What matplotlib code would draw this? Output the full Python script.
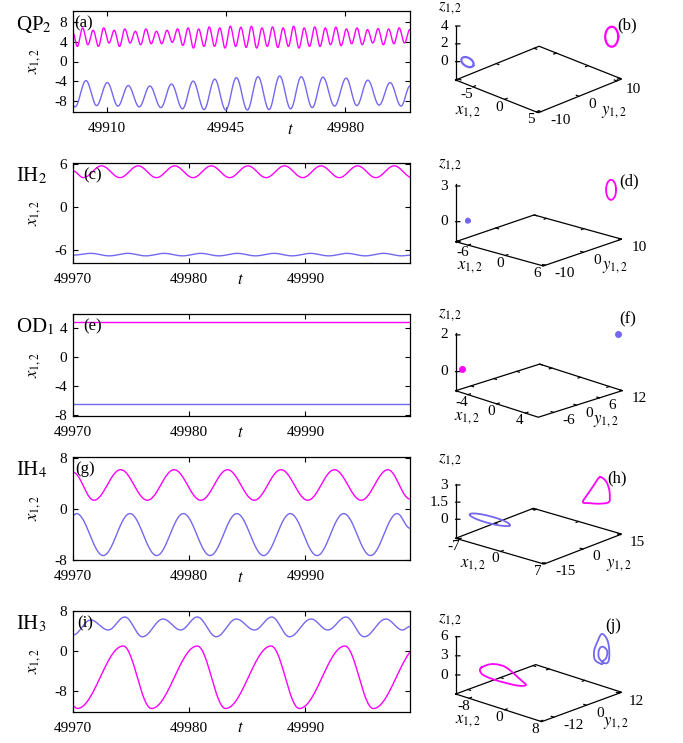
import numpy as np
import matplotlib
matplotlib.use('Agg')
import matplotlib.pyplot as plt

plt.rcParams['font.family'] = ['Liberation Serif', 'DejaVu Serif']
plt.rcParams['mathtext.fontset'] = 'stix'
plt.rcParams['axes.unicode_minus'] = False
plt.rcParams['font.size'] = 10.5

MAG = '#ff00ff'
BLUE = '#7468f0'
W, H = 683, 743

# ---------------- time series: turning points (t offset, x) ----------------
a_t0 = 49900
a_mag_t = [0, 1.27, 2.82, 4.37, 5.92, 7.47, 9.02, 10.57, 12.12, 13.67, 15.22, 16.77, 18.32, 19.87,
           21.42, 22.97, 24.52, 26.07, 27.62, 29.17, 30.72, 32.27, 33.82, 35.37, 36.92, 38.47,
           40.02, 41.57, 43.12, 44.67, 46.22, 47.77, 49.32, 50.87, 52.42, 53.97, 55.52, 57.07,
           58.62, 60.17, 61.72, 63.27, 64.82, 66.37, 67.92, 69.47, 71.02, 72.57, 74.12, 75.67,
           77.22, 78.77, 80.32, 81.87, 83.42, 84.97, 86.52, 88.07, 89.62, 91.17, 92.72, 94.27,
           95.82, 97.37, 98.92]
a_mag_x = [5.8, 3.08, 6.85, 3.42, 6.37, 3.08, 6.85, 3.77, 6.37, 3.08, 6.64, 3.77, 6.16, 3.42,
           6.64, 3.63, 6.16, 3.63, 6.37, 3.9, 6.64, 3.29, 6.85, 2.74, 6.64, 3.08, 7.05, 3.08,
           6.85, 2.74, 7.19, 3.08, 6.99, 2.88, 7.19, 2.74, 6.85, 3.08, 7.05, 2.88, 6.85, 3.08,
           7.19, 2.74, 6.85, 3.08, 7.05, 3.08, 6.85, 3.42, 6.99, 3.22, 6.64, 3.63, 6.85, 3.42,
           6.5, 3.77, 6.71, 3.42, 6.64, 3.63, 6.85, 3.77, 6.5]
a_blue_t = [0, 0.59, 3.81, 6.94, 10.07, 13.2, 16.23, 19.45, 22.58, 25.81, 28.93, 32.16, 35.29,
            38.51, 41.64, 44.87, 48.0, 51.22, 54.35, 57.58, 60.7, 63.93, 67.06, 70.28, 73.41,
            76.83, 80.25, 83.38, 86.61, 89.93, 93.16, 96.38, 99]
a_blue_x = [-9.0, -9.25, -3.9, -9.0, -4.3, -9.1, -4.9, -9.25, -5.0, -9.4, -4.6, -9.65, -4.0,
            -9.8, -3.6, -9.9, -3.3, -9.9, -3.1, -9.8, -2.95, -9.65, -3.1, -9.4, -3.2, -9.1,
            -3.4, -9.0, -3.8, -8.9, -4.3, -9.1, -5.0]

t0 = 49970
c_mag_t = [0, 0.89, 2.46, 4.04, 5.61, 7.18, 8.76, 10.33, 11.90, 13.48, 15.05, 16.62, 18.20,
           19.77, 21.34, 22.92, 24.49, 26.06, 27.64, 29.2]
c_mag_x = [5.1, 4.15, 5.8, 4.15, 5.8, 4.15, 5.8, 4.15, 5.8, 4.15, 5.8, 4.15, 5.8, 4.15, 5.8,
           4.15, 5.8, 4.15, 5.8, 4.15]
c_blue_t = [0, 1.55, 3.12, 4.70, 6.27, 7.84, 9.42, 10.99, 12.56, 14.14, 15.71, 17.28, 18.86,
            20.43, 22.0, 23.58, 25.15, 26.72, 28.3, 29.0]
c_blue_x = [-6.7, -6.45, -6.8, -6.45, -6.8, -6.45, -6.8, -6.45, -6.8, -6.45, -6.8, -6.45, -6.8,
            -6.45, -6.8, -6.45, -6.8, -6.45, -6.8, -6.7]

e_mag_t = [0, 29]
e_mag_x = [4.88, 4.88]
e_blue_t = [0, 29]
e_blue_x = [-6.5, -6.5]

g_mag_t = [0, 1.8, 4.1, 6.4, 8.7, 11.0, 13.3, 15.6, 17.9, 20.2, 22.5, 24.8, 27.1, 29.0]
g_mag_x = [5.8, 1.4, 6.2, 1.4, 6.2, 1.4, 6.2, 1.4, 6.2, 1.4, 6.2, 1.4, 6.2, 1.6]
g_blue_t = [0, 0.3, 2.6, 4.9, 7.2, 9.5, 11.8, 14.1, 16.4, 18.7, 21.0, 23.3, 25.6, 27.9, 29.0]
g_blue_x = [-1.0, -0.7, -7.3, -0.7, -7.3, -0.7, -7.3, -0.7, -7.3, -0.7, -7.3, -0.7, -7.3, -0.7, -3.0]

i_blue_t = [0, 1.52, 3.03, 4.46, 5.98, 7.75, 9.27, 10.7, 12.33, 14.05, 15.62, 17.11, 18.63,
            20.49, 21.92, 23.49, 25.06, 26.92, 28.35, 29.0]
i_blue_x = [3.2, 6.2, 4.2, 6.8, 2.85, 6.4, 4.2, 6.8, 2.85, 6.4, 4.2, 6.8, 2.85, 6.4, 4.2, 6.8,
            2.85, 6.4, 4.2, 4.9]
i_mag_t = [0, 0.37, 4.32, 6.75, 10.7, 13.13, 17.05, 19.48, 23.4, 25.84, 29.8]
i_mag_x = [-11.0, -11.5, 1.0, -11.5, 1.0, -11.5, 1.0, -11.5, 1.0, -11.5, 1.0]

# ---------------- phase portraits: loop points (x, y, z) ----------------
b_mag = ([4.8, 5.3, 5.67, 5.8, 5.67, 5.3, 4.8, 4.3, 3.93, 3.8, 3.93, 4.3],
         [11.22, 10.15, 8.91, 7.83, 7.19, 7.18, 7.79, 8.85, 10.09, 11.18, 11.81, 11.82],
         [2.56, 3.44, 4.17, 4.55, 4.47, 3.95, 3.15, 2.26, 1.53, 1.16, 1.23, 1.75])
b_blue = ([-5.6, -5.72, -6.05, -6.5, -6.95, -7.28, -7.4, -7.28, -6.95, -6.5, -6.05, -5.72],
          [-9.6, -9.3, -9.08, -9.0, -9.08, -9.3, -9.6, -9.9, -10.12, -10.2, -10.12, -9.9],
          [-0.05, 0.12, 0.285, 0.4, 0.435, 0.38, 0.25, 0.08, -0.085, -0.2, -0.235, -0.18])
d_mag = ([4.97, 5.39, 5.69, 5.8, 5.69, 5.39, 4.97, 4.56, 4.25, 4.14, 4.25, 4.56],
         [10.36, 9.51, 8.54, 7.70, 7.23, 7.24, 7.74, 8.59, 9.56, 10.40, 10.87, 10.86],
         [2.27, 2.84, 3.30, 3.52, 3.44, 3.09, 2.55, 1.98, 1.52, 1.30, 1.38, 1.73])
d_blue = ([-6.38, -6.43, -6.55, -6.67, -6.72, -6.67, -6.55, -6.43],
          [-9.7, -9.63, -9.6, -9.63, -9.7, -9.77, -9.8, -9.77],
          [0.21, 0.28, 0.31, 0.28, 0.21, 0.14, 0.11, 0.14])
f_mag_pt = (-5.0, -9.6, 0.2)
f_blue_pt = (5.8, 10.9, 2.1)
h_mag = ([4.23, 5.23, 5.73, 5.89, 5.73, 4.23, 2.57, 1.40, 2.23, 3.23],
         [13.9] * 10,
         [3.0, 2.81, 2.27, 1.68, 1.05, 0.68, 0.47, 0.39, 1.21, 2.15])
h_blue = ([-0.7, -1.14, -2.35, -4.0, -5.65, -6.86, -7.3, -6.86, -5.65, -4.0, -2.35, -1.14],
          [-10.3, -9.55, -9.0, -8.8, -9.0, -9.55, -10.3, -11.05, -11.6, -11.8, -11.6, -11.05],
          [0.06, 0.11, 0.15, 0.16, 0.15, 0.11, 0.06, 0.01, -0.03, -0.04, -0.03, 0.01])
j_mag = ([-11.11, -8.87, -6.26, -4.38, -2.52, -1.17, -2.9, -5.88, -8.51, -10.75, -11.49],
         [-6.73] * 11,
         [-0.35, 0.67, 0.95, 0.48, -0.30, -0.88, -1.38, -1.59, -1.65, -1.48, -0.96])
j_blue = ([4.73, 3.23, 3.0, 3.61, 4.73, 5.99, 6.44, 6.21, 5.25, 4.13, 4.01, 4.35, 4.96, 5.70,
           5.99, 5.70, 5.02],
          [11.5] * 17,
          [0.89, 1.17, 2.43, 3.88, 5.59, 4.93, 3.2, 1.58, 1.16, 1.69, 2.6, 3.31, 3.65, 3.46,
           2.97, 2.0, 1.42])


def turn_curve(tk, vk, n=30):
    # half-cosine strokes between successive turning points
    ts, vs = [], []
    for i in range(len(tk) - 1):
        s = np.linspace(0, 1, n, endpoint=False)
        ts.append(tk[i] + (tk[i + 1] - tk[i]) * s)
        vs.append(vk[i] + (vk[i + 1] - vk[i]) * (1 - np.cos(np.pi * s)) / 2)
    ts.append([tk[-1]])
    vs.append([vk[-1]])
    return np.concatenate(ts), np.concatenate(vs)


def closed_curve(xs, ys, zs, n=16):
    # closed Catmull-Rom curve through the loop points
    P = np.array([xs, ys, zs], dtype=float).T
    m = len(P)
    s = np.linspace(0, 1, n, endpoint=False)[:, None]
    out = []
    for i in range(m):
        p0, p1, p2, p3 = P[i - 1], P[i], P[(i + 1) % m], P[(i + 2) % m]
        out.append(0.5 * (2 * p1 + (p2 - p0) * s + (2 * p0 - 5 * p1 + 4 * p2 - p3) * s ** 2
                          + (3 * p1 - p0 - 3 * p2 + p3) * s ** 3))
    out.append(P[:1])
    return np.vstack(out).T


def lab(v):
    return '{:g}'.format(v)


def ftext(px, py, s, **kw):
    fig.text(px / W, 1 - py / H, s, **kw)


fig = plt.figure(figsize=(W / 100, H / 100), dpi=100)


def ts_panel(top, bot, base, curves, xlim, xticks, ylim, yticks, letter, letter_px, state, t_px):
    ax = fig.add_axes([73 / W, 1 - bot / H, 337 / W, (bot - top) / H])
    for tk, vk, col in curves:
        tt, vv = turn_curve(tk, vk)
        ax.plot(tt + base, vv, color=col, lw=1.0)
    ax.set_xlim(*xlim)
    ax.set_ylim(*ylim)
    ax.set_xticks(xticks)
    ax.set_xticklabels([str(v) for v in xticks])
    ax.set_yticks(yticks)
    ax.set_yticklabels([lab(v) for v in yticks])
    ax.tick_params(direction='in', top=True, right=True, length=3.5, width=0.8,
                   labelsize=11)
    ax.tick_params(axis='x', pad=7)
    ax.tick_params(axis='y', pad=4)
    for sp in ax.spines.values():
        sp.set_linewidth(0.9)
    ax.set_ylabel(r'$x_{1,2}$', fontsize=12)
    ax.yaxis.set_label_coords(-0.088, 0.5)
    ax.text((letter_px - 73) / 337, 0.96, letter, transform=ax.transAxes, fontsize=12,
            va='top', ha='left')
    h = bot - top
    ax.text((t_px[0] - 73) / 337, -(t_px[1] - bot) / h, r'$t$', transform=ax.transAxes,
            fontsize=12, ha='center', va='center')
    ftext(16, top + 3, state, fontsize=15, va='top', ha='left')
    return ax


ts_panel(11, 112, a_t0, [(a_mag_t, a_mag_x, MAG), (a_blue_t, a_blue_x, BLUE)],
         (49900, 49999), [49910, 49945, 49980], (-10.3, 10.3), [8, 4, 0, -4, -8],
         '(a)', 74, r'QP$_2$', (290, 130))
ts_panel(163, 263, t0, [(c_mag_t, c_mag_x, MAG), (c_blue_t, c_blue_x, BLUE)],
         (49970, 49999), [49970, 49980, 49990], (-7.8, 6.2), [6, 0, -6],
         '(c)', 83, r'IH$_2$', (240.7, 280))
ts_panel(314, 416, t0, [(e_mag_t, e_mag_x, MAG), (e_blue_t, e_blue_x, BLUE)],
         (49970, 49999), [49970, 49980, 49990], (-8.15, 6.0), [4, 0, -4, -8],
         '(e)', 83, r'OD$_1$', (240.7, 433))
ts_panel(457, 560, t0, [(g_mag_t, g_mag_x, MAG), (g_blue_t, g_blue_x, BLUE)],
         (49970, 49999), [49970, 49980, 49990], (-8.0, 8.2), [8, 0, -8],
         '(g)', 75, r'IH$_4$', (240.7, 578))
ts_panel(611, 712, t0, [(i_mag_t, i_mag_x, MAG), (i_blue_t, i_blue_x, BLUE)],
         (49970, 49999), [49970, 49980, 49990], (-12.2, 8.0), [8, 0, -8],
         '(i)', 77, r'IH$_3$', (240.7, 728))


def phase_panel(xl, yl, zl, xt, yt, zt, elev, azim, aspect, loops, dots):
    ax = fig.add_axes([0.65, 0.4, 0.3, 0.3], projection='3d', proj_type='ortho',
                      computed_zorder=False)
    ax.set_axis_off()
    ax.patch.set_alpha(0)
    ax.view_init(elev=elev, azim=azim)
    ax.set_box_aspect(aspect)
    ax.set_xlim(*xl)
    ax.set_ylim(*yl)
    ax.set_zlim(*zl)
    M = ax.get_proj()

    def label(x, y, z, s, **kw):
        # tick label placed at the projection of a 3-D anchor point
        v = M @ np.array([x, y, z, 1.0])
        ax.text2D(v[0] / v[3], v[1] / v[3], s, transform=ax.transData, fontsize=11, **kw)

    x0, x1 = xl
    y0, y1 = yl
    zb, ztop = zl
    xr, yr, zr = x1 - x0, y1 - y0, ztop - zb
    k = dict(color='black', lw=0.9)
    ax.plot([x0, x1, x1, x0, x0], [y0, y0, y1, y1, y0], [zb] * 5, **k)
    ax.plot([x0, x0], [y0, y0], [zb, ztop], **k)
    for v in xt:
        ax.plot([v, v], [y0, y0 + 0.03 * yr], [zb, zb], **k)
        ax.plot([v, v], [y1, y1 - 0.03 * yr], [zb, zb], **k)
        label(v, y0 - 0.07 * yr, zb - 0.1 * zr, lab(v), ha='center', va='center')
    for v in yt:
        ax.plot([x1, x1 - 0.03 * xr], [v, v], [zb, zb], **k)
        ax.plot([x0, x0 + 0.03 * xr], [v, v], [zb, zb], **k)
        label(x1 + 0.11 * xr, v, zb - 0.09 * zr, lab(v), ha='left', va='center')
    for v in zt:
        ax.plot([x0, x0 + 0.025 * xr], [y0, y0 + 0.025 * yr], [v, v], **k)
        label(x0 - 0.045 * xr, y0 - 0.045 * yr, v, lab(v), ha='right', va='center')
    for (xs, ys, zs), col, lw in loops:
        cx, cy, cz = closed_curve(xs, ys, zs)
        ax.plot(cx, cy, cz, color=col, lw=lw, zorder=3)
    for (px, py, pz), col in dots:
        ax.plot([px], [py], [pz], 'o', color=col, ms=4, zorder=3)
    return ax


phase_specs = [
    dict(xl=(-7.7, 5.3), yl=(-10.7, 11.3), zl=(-2.06, 4.0), xt=[-5, 0, 5], yt=[-10, 0, 10],
         zt=[0, 2, 4], elev=23.6, azim=-45.3, aspect=(116.2, 118.6, 58.9),
         loops=[(b_mag, MAG, 1.6), (b_blue, BLUE, 1.6)], dots=[],
         L=(455.7, 80), R=(621.7, 79), letter='(b)', lp=(626.7, 25),
         zlab=(450, 8), xlab=(468, 112), ylab=(614, 112)),
    dict(xl=(-8, 6.1), yl=(-10.5, 10), zl=(-1.68, 3.2), xt=[-6, 0, 6], yt=[-10, 0, 10],
         zt=[0, 3], elev=17.9, azim=-48.0, aspect=(117.9, 117.2, 61.0),
         loops=[(d_mag, MAG, 1.3), (d_blue, BLUE, 2.5)], dots=[],
         L=(455.7, 241.7), R=(621.7, 239.3), letter='(d)', lp=(629.3, 181.7),
         zlab=(450, 165), xlab=(470, 267), ylab=(615, 267)),
    dict(xl=(-5.7, 5.8), yl=(-10, 12), zl=(-1.04, 2.1), xt=[-4, 0, 4], yt=[-6, 0, 6, 12],
         zt=[0, 2], elev=18.6, azim=-44.8, aspect=(117.2, 118.3, 60.8),
         loops=[], dots=[(f_mag_pt, MAG), (f_blue_pt, BLUE)],
         L=(455.7, 390.7), R=(622.3, 390.7), letter='(f)', lp=(627.3, 319.3),
         zlab=(450, 315), xlab=(467, 418.5), ylab=(606, 421)),
    dict(xl=(-7.5, 7.2), yl=(-15.5, 15.5), zl=(-1.66, 3.1), xt=[-7, 0, 7], yt=[-15, 0, 15],
         zt=[0, 1.5, 3], elev=19.6, azim=-49.0, aspect=(117.0, 118.4, 57.7),
         loops=[(h_mag, MAG, 1.3), (h_blue, BLUE, 1.3)], dots=[],
         L=(455.7, 538.3), R=(621.7, 534), letter='(h)', lp=(616.7, 478.3),
         zlab=(450, 460), xlab=(473, 565), ylab=(619, 565)),
    dict(xl=(-11, 8.3), yl=(-16.5, 13), zl=(-2.98, 6.16), xt=[-8, 0, 8], yt=[-12, 0, 12],
         zt=[0, 3, 6], elev=20.1, azim=-46.9, aspect=(117.8, 117.1, 62.1),
         loops=[(j_mag, MAG, 1.3), (j_blue, BLUE, 1.3)], dots=[],
         L=(455.7, 694), R=(621.7, 692.3), letter='(j)', lp=(612.7, 626),
         zlab=(450, 620), xlab=(468, 721), ylab=(616, 723)),
]

axes3d = []
for sp in phase_specs:
    ax = phase_panel(sp['xl'], sp['yl'], sp['zl'], sp['xt'], sp['yt'], sp['zt'],
                     sp['elev'], sp['azim'], sp['aspect'], sp['loops'], sp['dots'])
    axes3d.append(ax)
    ftext(*sp['lp'], sp['letter'], fontsize=12, ha='center', va='center')
    ftext(*sp['zlab'], r'$z_{1,2}$', fontsize=12, ha='center', va='center')
    ftext(*sp['xlab'], r'$x_{1,2}$', fontsize=12, ha='center', va='center')
    ftext(*sp['ylab'], r'$y_{1,2}$', fontsize=12, ha='center', va='center')

# place each 3-D box so that its base corners sit where the reference has them
fig.canvas.draw()
for ax, sp in zip(axes3d, phase_specs):
    M = ax.get_proj()
    pts = []
    for (x, y) in [(sp['xl'][0], sp['yl'][0]), (sp['xl'][1], sp['yl'][1])]:
        v = M @ np.array([x, y, sp['zl'][0], 1.0])
        pts.append(ax.transData.transform((v[0] / v[3], v[1] / v[3])))
    pL, pR = pts
    tL = np.array([sp['L'][0], H - sp['L'][1]])
    tR = np.array([sp['R'][0], H - sp['R'][1]])
    bb = ax.get_position()
    x0d, y0d, wd, hd = bb.x0 * W, bb.y0 * H, bb.width * W, bb.height * H
    k = (tR[0] - tL[0]) / (pR[0] - pL[0])
    nx0 = tL[0] - k * (pL[0] - x0d)
    ny0 = tL[1] - k * (pL[1] - y0d)
    ax.set_position([nx0 / W, ny0 / H, k * wd / W, k * hd / H])

fig.savefig('out.png', dpi=100)
